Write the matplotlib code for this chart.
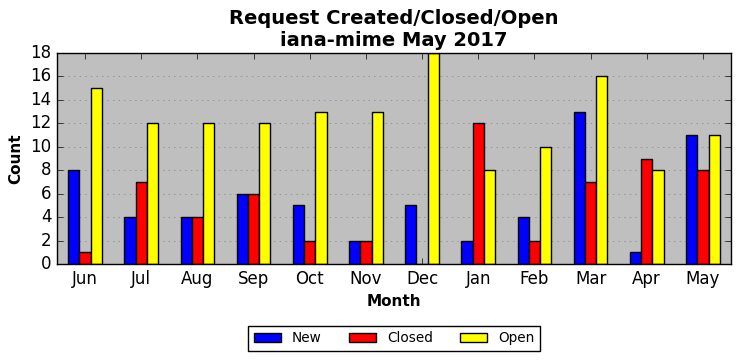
import numpy as np
import matplotlib
matplotlib.use("Agg")
import matplotlib.pyplot as plt

plt.style.use("classic")

months = ["Jun", "Jul", "Aug", "Sep", "Oct", "Nov", "Dec",
          "Jan", "Feb", "Mar", "Apr", "May"]
new_counts = [8, 4, 4, 6, 5, 2, 5, 2, 4, 13, 1, 11]
closed_counts = [1, 7, 4, 6, 2, 2, 0, 12, 2, 7, 9, 8]
open_counts = [15, 12, 12, 12, 13, 13, 18, 8, 10, 16, 8, 11]

x = np.arange(len(months))
width = 0.2

fig = plt.figure(figsize=(7.4, 3.61), dpi=100, facecolor="white")
ax = fig.add_axes([57 / 740, 1 - 264 / 361, 674 / 740, 211 / 361])
ax.set_facecolor("#bfbfbf")

ax.bar(x - width, new_counts, width, color="blue", edgecolor="black",
       align="center", label="New")
ax.bar(x, closed_counts, width, color="red", edgecolor="black",
       align="center", label="Closed")
ax.bar(x + width, open_counts, width, color="yellow", edgecolor="black",
       align="center", label="Open")

ax.set_xlim(-0.5, len(months) - 0.5)
ax.set_ylim(0, 18)
ax.set_yticks(range(0, 19, 2))
ax.set_xticks(x)
ax.set_xticklabels(months)
ax.yaxis.grid(True, linestyle=":", color="gray")
ax.set_axisbelow(True)

ax.set_xlabel("Month", fontweight="bold", fontsize=11)
ax.set_ylabel("Count", fontweight="bold", fontsize=11)
ax.set_title("Request Created/Closed/Open\niana-mime May 2017",
             fontweight="bold", fontsize=14)

ax.legend(loc="upper center", bbox_to_anchor=(0.5, -0.26), ncol=3,
          fontsize=9.8, frameon=True)

fig.savefig("out.png", dpi=100, facecolor="white")
